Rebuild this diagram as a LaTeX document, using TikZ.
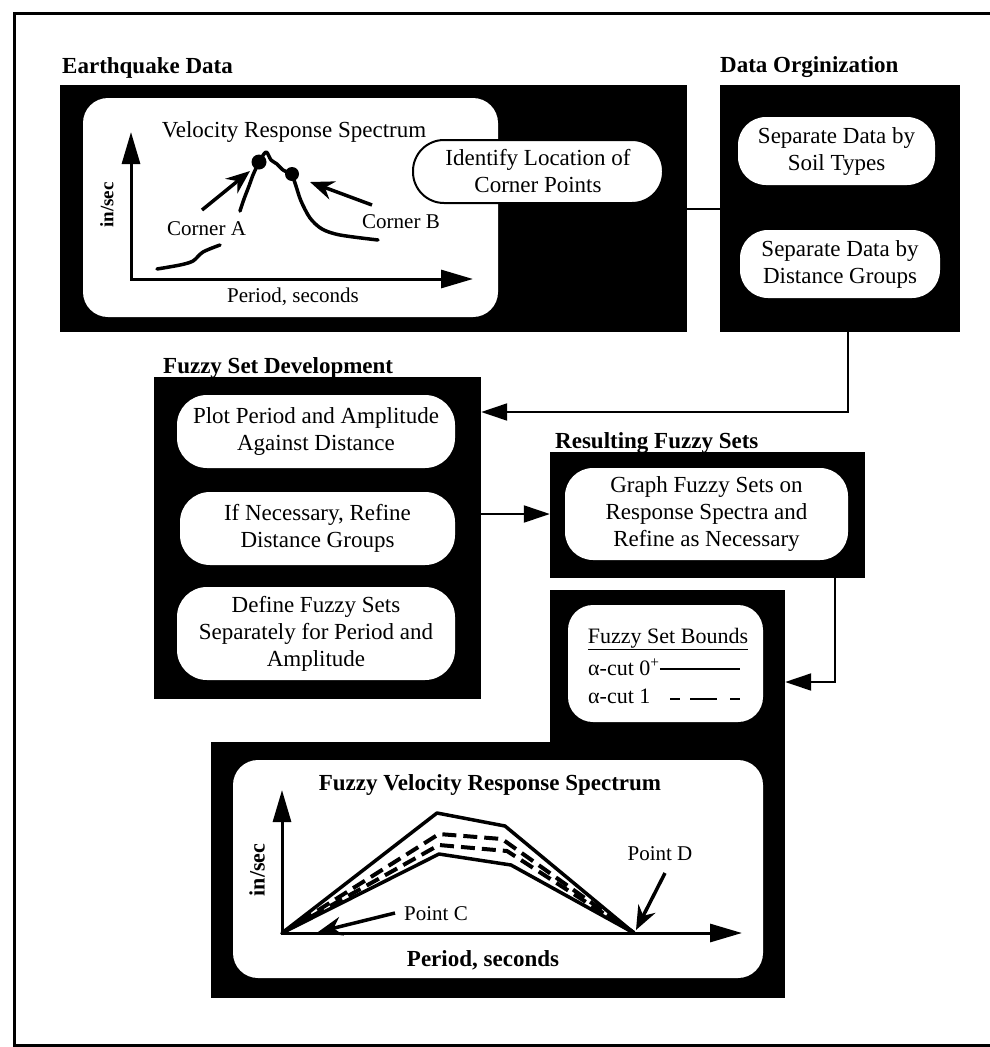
\documentclass[tikz,border=0pt]{standalone}
\usepackage{fontspec}
\setmainfont{Liberation Serif}
\usetikzlibrary{arrows.meta,calc}
\newcommand{\bodyfont}{\fontsize{23}{27}\selectfont}
\newcommand{\headfont}{\bfseries\fontsize{23}{27}\selectfont}
\newcommand{\chartfont}{\fontsize{21}{25}\selectfont}
\begin{document}
\begin{tikzpicture}[x=1pt,y=-1pt,
  blackbox/.style={rectangle, fill=black, draw=none, inner sep=0pt},
  panel/.style={rectangle, fill=white, draw=none, rounded corners=25pt, inner sep=0pt},
  pill/.style={rectangle, fill=white, draw=none, rounded corners=28pt, align=center, inner sep=0pt, font=\bodyfont},
  title/.style={font=\headfont, anchor=base west, inner sep=0pt},
  link/.style={line width=2pt},
  conn/.style={line width=2pt, -{Triangle[length=26pt,width=17pt]}},
  axes/.style={line width=3pt, {Triangle[length=32pt,width=18pt]}-{Triangle[length=32pt,width=18pt]}},
  curve/.style={line width=3.5pt, line cap=round, line join=round},
  dline/.style={line width=4pt, dash pattern=on 14pt off 7pt},
  pointer/.style={line width=3.5pt, -{Stealth[length=24pt,width=19pt,inset=8pt]}},
  lbl/.style={font=\chartfont, inner sep=0pt}
]
\useasboundingbox (0,0) rectangle (990,1047);

% page frame (open on the right)
\draw[line width=3pt] (995,13) -- (14,13) -- (14,1045) -- (995,1045);

% ---------- dark panels ----------
\node[blackbox, minimum width=627pt, minimum height=247pt] (eqbox)  at (373.5,208.5) {};
\node[blackbox, minimum width=240pt, minimum height=247pt] (orgbox) at (840,208.5) {};
\node[blackbox, minimum width=327pt, minimum height=322pt] (fsdbox) at (317.5,538) {};
\node[blackbox, minimum width=315pt, minimum height=126pt] (resbox) at (707.5,515) {};
\node[blackbox, minimum width=235pt, minimum height=160pt] (fsbbox) at (667.5,670) {};
\node[blackbox, minimum width=574pt, minimum height=256pt] (specbox) at (498,870) {};

% ---------- titles ----------
\node[title] (eqtitle)  at (62,73)   {Earthquake Data};
\node[title] (orgtitle) at (720,72)  {Data Orginization};
\node[title] (fsdtitle) at (163,373) {Fuzzy Set Development};
\node[title] (restitle) at (555,448) {Resulting Fuzzy Sets};

% ---------- earthquake data: velocity response spectrum ----------
\node[panel, minimum width=415pt, minimum height=219pt] (vrs) at (290.5,207.5) {};
\coordinate (o1) at (131,279);
\coordinate (y1) at (131,132);
\coordinate (x1) at (473,279);
\draw[axes] (y1) -- (o1) -- (x1);
\node[lbl, font=\bodyfont, anchor=base] (vrstitle) at (294,137) {Velocity Response Spectrum};
\node[lbl, font=\bfseries\fontsize{19}{22}\selectfont, rotate=90] (vrsy) at (107,205) {in/sec};
\node[lbl, anchor=base] (vrsx) at (293,302) {Period, seconds};
\node[lbl, anchor=base west] (ca) at (167,235) {Corner A};
\node[lbl, anchor=base west] (cb) at (362,228) {Corner B};

\coordinate (ptA) at (259,162);
\coordinate (ptB) at (292,174);
\draw[curve] plot[smooth] coordinates {(157,269) (180,265) (193,261) (203,252) (220,245)};
\draw[curve] plot[smooth] coordinates {(240,211) (244,199) (249,186) (253,175) (258,164)};
\draw[curve] plot[smooth] coordinates {(ptA) (266,152) (271,160) (277,164) (283,170) (ptB)};
\draw[curve] plot[smooth] coordinates {(ptB) (296,186) (301,201) (310,218) (322,229) (340,235) (378,240)};
\fill (ptA) circle (7.5pt);
\fill (ptB) circle (7pt);
\coordinate (sA) at (202,210);
\coordinate (sB) at (372,205);
\draw[pointer] (sA) -- (250,171);
\draw[pointer] (sB) -- (310,182);

\node[pill, draw=black, line width=2pt, rounded corners=31pt, minimum width=250pt, minimum height=63pt] (ident) at (538,171.5) {Identify Location of\\Corner Points};

% ---------- data organization ----------
\node[pill, minimum width=197pt, minimum height=68pt] (soil) at (836.5,151) {Separate Data by\\Soil Types};
\node[pill, minimum width=200pt, minimum height=68pt] (dist) at (840,264) {Separate Data by\\Distance Groups};

% ---------- fuzzy set development ----------
\node[pill, rounded corners=30pt, minimum width=278pt, minimum height=73pt] (plot) at (316,431.5) {Plot Period and Amplitude\\Against Distance};
\node[pill, rounded corners=30pt, minimum width=275pt, minimum height=73pt] (refine) at (317.5,528.5) {If Necessary, Refine\\Distance Groups};
\node[pill, rounded corners=30pt, minimum width=278pt, minimum height=93pt] (define) at (316,633.5) {Define Fuzzy Sets\\Separately for Period and\\Amplitude};

% ---------- resulting fuzzy sets ----------
\node[pill, minimum width=283pt, minimum height=92pt] (graph) at (706.5,514) {Graph Fuzzy Sets on\\Response Spectra and\\Refine as Necessary};

% ---------- fuzzy set bounds legend ----------
\node[panel, minimum width=195pt, minimum height=117pt] (bounds) at (665.5,663.5) {};
\node[lbl, font=\fontsize{22}{26}\selectfont, anchor=base] (btitle) at (668,643) {\underline{Fuzzy Set Bounds}};
\node[lbl, font=\fontsize{22}{26}\selectfont, anchor=base west] (a0) at (588,675) {α-cut 0\textsuperscript{+}};
\node[lbl, font=\fontsize{22}{26}\selectfont, anchor=base west] (a1) at (588,703) {α-cut 1};
\coordinate (a0e) at (740,669);
\coordinate (a1s) at (670,699);
\coordinate (a1e) at (740,699);
\draw[line width=2pt] (a0.east |- a0e) -- (a0e);
\draw[line width=2.5pt, dash pattern=on 10pt off 10pt on 27pt off 13pt on 10pt off 50pt] (a1s) -- (a1e);

% ---------- fuzzy velocity response spectrum ----------
\node[panel, minimum width=530pt, minimum height=218pt] (spec) at (498,869) {};
\node[lbl, font=\headfont, anchor=base] (spectitle) at (490,790) {Fuzzy Velocity Response Spectrum};
\coordinate (o2) at (282,933);
\coordinate (y2) at (282,790);
\coordinate (x2) at (742,933);
\coordinate (pD) at (634,933);
\draw[axes] (y2) -- (o2) -- (x2);
\node[lbl, font=\bfseries\fontsize{22}{26}\selectfont, rotate=90] (specy) at (257,870) {in/sec};
\node[lbl, font=\headfont, anchor=base] (specx) at (483,966) {Period, seconds};
\draw[curve] (o2) -- (437,813) -- (505,826) -- (pD);
\draw[curve] (o2) -- (439,854) -- (511,865) -- (pD);
\draw[dline] (o2) -- (439,834) -- (502,839) -- (pD);
\draw[dline, dash phase=8pt] (o2) -- (439,845) -- (507,851) -- (pD);
\node[lbl, anchor=base west] (pc) at (404,920) {Point C};
\node[lbl, anchor=base] (pdl) at (660,860) {Point D};
\coordinate (sC) at (395,913);
\coordinate (sD) at (665,873);
\draw[pointer] (sC) -- (318,932);
\draw[pointer] (sD) -- (636,930);

% ---------- connectors ----------
\draw[link] (eqbox.east) -- (orgbox.west);
\coordinate (j1) at (848,412);
\draw[conn] (orgbox.south -| j1) -- (j1) -- (j1 -| fsdbox.east);
\draw[conn] (fsdbox.east |- graph) -- (resbox.west |- graph);
\coordinate (j2) at (835,682);
\draw[conn] (resbox.south -| j2) -- (j2) -- (j2 -| fsbbox.east);
\end{tikzpicture}
\end{document}
